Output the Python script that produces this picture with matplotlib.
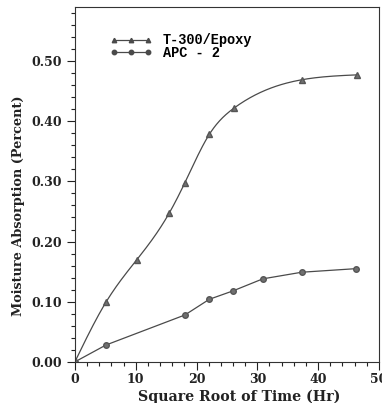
import numpy as np
import matplotlib.pyplot as plt
from matplotlib.ticker import MultipleLocator, FormatStrFormatter

# data
t300_x = [0, 5.1, 10.2, 15.5, 18.1, 22.1, 26.2, 37.4, 46.4]
t300_y = [0.0, 0.099, 0.170, 0.247, 0.298, 0.378, 0.422, 0.469, 0.477]
apc_x = [0, 5.1, 18.1, 22.1, 26.0, 30.9, 37.3, 46.3]
apc_y = [0.0, 0.028, 0.078, 0.104, 0.118, 0.138, 0.149, 0.155]


def spline(x, y, n=40):
    # natural cubic spline through the points, only for drawing a smooth line
    x = np.asarray(x, float)
    y = np.asarray(y, float)
    N = len(x)
    h = np.diff(x)
    A = np.zeros((N, N))
    b = np.zeros(N)
    A[0, 0] = A[-1, -1] = 1
    for i in range(1, N - 1):
        A[i, i - 1] = h[i - 1]
        A[i, i] = 2 * (h[i - 1] + h[i])
        A[i, i + 1] = h[i]
        b[i] = 6 * ((y[i + 1] - y[i]) / h[i] - (y[i] - y[i - 1]) / h[i - 1])
    M = np.linalg.solve(A, b)
    xs, ys = [], []
    for k in range(N - 1):
        t = np.linspace(x[k], x[k + 1], n)
        a = (x[k + 1] - t) / h[k]
        c = (t - x[k]) / h[k]
        v = (a * y[k] + c * y[k + 1]
             + ((a**3 - a) * M[k] + (c**3 - c) * M[k + 1]) * h[k]**2 / 6)
        xs.append(t)
        ys.append(v)
    return np.concatenate(xs), np.concatenate(ys)


col = '#4a4a4a'
fig = plt.figure(figsize=(3.82, 4.03), dpi=100)
ax = fig.add_axes([0.196, 0.102, 0.796, 0.881])

sx, sy = spline(t300_x, t300_y)
ax.plot(sx, sy, color=col, lw=0.9)
ax.plot(t300_x, t300_y, ls='none', marker='^', ms=4, color='#707070', mec='#555555')
ax.plot(apc_x, apc_y, color=col, lw=0.9)
ax.plot(apc_x, apc_y, ls='none', marker='o', ms=4, color='#707070', mec='#555555')

# legend handles
ax.plot([], [], color=col, lw=0.9, marker='^', ms=3.2, label='T-300/Epoxy')
ax.plot([], [], color=col, lw=0.9, marker='o', ms=3.2, label='APC - 2')
h, l = ax.get_legend_handles_labels()
ax.legend(h, l, loc='upper left', bbox_to_anchor=(0.075, 0.96), frameon=False,
          numpoints=3, handlelength=3.1, handletextpad=0.8, labelspacing=-0.1,
          prop={'family': 'Liberation Mono', 'weight': 'bold', 'size': 9.8})

ax.set_xlim(0, 50)
ax.set_ylim(0, 0.59)
ax.xaxis.set_major_locator(MultipleLocator(10))
ax.xaxis.set_minor_locator(MultipleLocator(2))
ax.yaxis.set_major_locator(MultipleLocator(0.1))
ax.yaxis.set_minor_locator(MultipleLocator(0.02))
ax.yaxis.set_major_formatter(FormatStrFormatter('%.2f'))
ax.tick_params(which='major', direction='out', length=6, width=0.8, colors='#222222')
ax.tick_params(which='minor', direction='out', length=3, width=0.8, colors='#222222')
ax.tick_params(axis='x', which='major', pad=2)
for s in ax.spines.values():
    s.set_linewidth(0.8)
    s.set_color('#333333')

font = {'family': 'DejaVu Serif', 'weight': 'bold'}
for lab in ax.get_xticklabels() + ax.get_yticklabels():
    lab.set_fontfamily('DejaVu Serif')
    lab.set_fontweight('bold')
    lab.set_fontsize(9)
    lab.set_color('#222222')
ax.set_xlabel('Square Root of Time (Hr)', fontsize=10.2, color='#222222', **font)
ax.xaxis.set_label_coords(0.54, -0.077)
ax.set_ylabel('Moisture Absorption (Percent)', fontsize=9.3, color='#222222', labelpad=6, **font)
ax.yaxis.set_label_coords(-0.165, 0.44)

fig.savefig('out.png', dpi=100)
